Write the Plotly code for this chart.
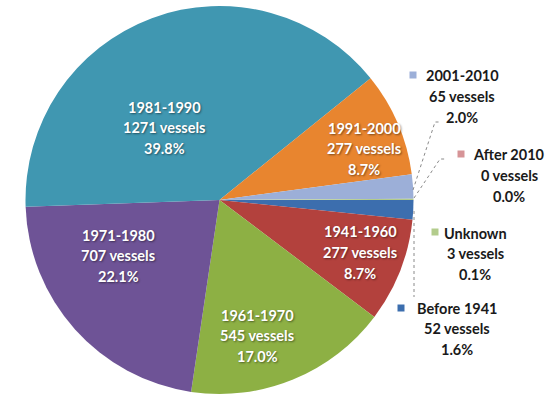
import plotly.graph_objects as go

# ---- data ----
categories = ["Before 1941", "1941-1960", "1961-1970", "1971-1980", "1981-1990",
              "1991-2000", "2001-2010", "After 2010", "Unknown"]
vessels = [52, 277, 545, 707, 1271, 277, 65, 0, 3]
colors = ["#3C6EAE", "#B3413D", "#8DB044", "#6E5396", "#4097B1",
          "#E8852F", "#9CAFD8", "#D69497", "#B3CC8C"]

W, H = 558, 400
total = sum(vessels)
pcts = [v / total * 100 for v in vessels]

fig = go.Figure(go.Pie(
    labels=categories, values=vessels, sort=False,
    direction="clockwise", rotation=90,
    marker=dict(colors=colors, line=dict(width=0)),
    textinfo="none", hoverinfo="label+value+percent",
    domain=dict(x=[(219.5 - 194) / W, (219.5 + 194) / W],
                y=[(H - 200 - 194) / H, (H - 200 + 194) / H]),
    showlegend=False,
))

# label layout: (center x px, first line y px, inside?, key square pos)
label_pos = {
    "1981-1990": (164, 107, True, None),
    "1991-2000": (364, 128, True, None),
    "1971-1980": (118, 235, True, None),
    "1961-1970": (257, 315, True, None),
    "1941-1960": (360, 232, True, None),
    "2001-2010": (462, 76, False, (413, 75)),
    "After 2010": (509, 155, False, (461, 154)),
    "Unknown": (475, 233, False, (435, 232)),
    "Before 1941": (457, 308, False, (401, 308)),
}

ann = []
shapes = []
LS = 20.5
for cat, v, p, c in zip(categories, vessels, pcts, colors):
    cx, y0, inside, key = label_pos[cat]
    lines = [cat, f"{v} vessels", f"{p:.1f}%"]
    for i, t in enumerate(lines):
        ann.append(dict(
            x=cx / W, y=1 - (y0 + i * LS) / H, xref="paper", yref="paper",
            text=f"<b>{t}</b>", showarrow=False, xanchor="center", yanchor="middle",
            font=dict(family="Lato, sans-serif", size=14.5,
                      color="white" if inside else "#1a1a1a",
                      shadow="1px 1px 2px rgba(0,0,0,0.45)" if inside else "none"),
        ))
    if key is not None:
        kx, ky = key
        shapes.append(dict(type="rect", xref="paper", yref="paper",
                           x0=(kx - 3.5) / W, x1=(kx + 3.5) / W,
                           y0=1 - (ky + 3.5) / H, y1=1 - (ky - 3.5) / H,
                           fillcolor=c, line=dict(width=0)))

def px_path(pts):
    return "M " + " L ".join(f"{x / W:.5f},{1 - y / H:.5f}" for x, y in pts)

for pts in [[(413, 190), (435, 122), (441, 122)],
            [(414, 198), (440, 159), (446, 159)],
            [(414, 211), (414, 297)]]:
    shapes.append(dict(type="path", xref="paper", yref="paper", path=px_path(pts),
                       line=dict(color="#8a8a8a", width=1, dash="dot")))

fig.update_layout(
    width=W, height=H, margin=dict(l=0, r=0, t=0, b=0),
    paper_bgcolor="white", plot_bgcolor="white",
    annotations=ann, shapes=shapes,
)
fig.write_html("out.html", config={"displayModeBar": False},
               post_script="document.body.style.margin='0';document.body.style.overflow='hidden';")
